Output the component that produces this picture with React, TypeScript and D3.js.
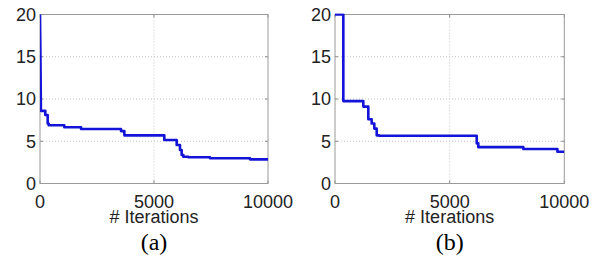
import React from "react";
import * as d3 from "d3";

type Pt = [number, number];

// Panel (a): best value vs iterations (step curve)
const iterA: number[] = [0, 20, 40, 232, 336, 380, 1066, 1800, 2237, 3553, 3700, 3846, 5452, 5540, 5995, 6140, 6213, 6287, 6506, 7456, 9210, 10000];
const valA: number[] = [20, 15, 8.6, 8.1, 7.1, 6.9, 6.65, 6.45, 6.45, 6.2, 5.7, 5.7, 5.15, 5.15, 4.55, 3.96, 3.37, 3.17, 3.1, 2.98, 2.86, 2.86];

// Panel (b)
const iterB: number[] = [0, 363, 1235, 1453, 1599, 1714, 1818, 1919, 6180, 6250, 8212, 9700, 10000];
const valB: number[] = [20, 9.75, 9.1, 7.6, 7.1, 6.5, 5.7, 5.65, 4.75, 4.3, 4.08, 3.76, 3.76];

const xTicks: number[] = [0, 5000, 10000];
const yTicks: number[] = [0, 5, 10, 15, 20];
const panelLabels: string[] = ["(a)", "(b)"];
const xLabel = "# Iterations";

function buildSteps(xs: number[], ys: number[]): Pt[] {
  // step-after curve: hold value until next iteration index
  const pts: Pt[] = [];
  for (let i = 0; i < xs.length; i++) {
    pts.push([xs[i], ys[i]]);
  }
  return pts;
}

const FONT = "Arial, 'Liberation Sans', sans-serif";

function Panel({ left, right, top, bottom, xs, ys, label, idx }: any) {
  const x = d3.scaleLinear().domain([0, 10000]).range([left, right]);
  const y = d3.scaleLinear().domain([0, 20]).range([bottom, top]);
  const pts = buildSteps(xs, ys);
  // first points are a quick drop (linear), rest are steps
  const line = d3
    .line<Pt>()
    .x((d) => x(d[0]))
    .y((d) => y(d[1]))
    .curve(d3.curveStepAfter);
  const stepPath = idx === 0
    ? d3.line<Pt>().x((d) => x(d[0])).y((d) => y(d[1]))(pts.slice(0, 3))! + line(pts.slice(2))!.replace(/^M/, "L")
    : line(pts)!;
  const clipId = `clip${idx}`;
  const cx = (left + right) / 2;
  return (
    <g>
      <defs>
        <clipPath id={clipId}>
          <rect x={left} y={top - 1} width={right - left} height={bottom - top + 1} />
        </clipPath>
      </defs>
      <rect x={left} y={top} width={right - left} height={bottom - top} fill="#fff" />
      {yTicks.filter((t) => t > 0 && t < 20).map((t) => (
        <line key={"gy" + t} x1={left} x2={right} y1={y(t)} y2={y(t)} stroke="#c4c4c4" strokeWidth={1} strokeDasharray="1,2" />
      ))}
      {xTicks.filter((t) => t > 0 && t < 10000).map((t) => (
        <line key={"gx" + t} x1={x(t)} x2={x(t)} y1={top} y2={bottom} stroke="#c4c4c4" strokeWidth={1} strokeDasharray="1,2" />
      ))}
      {yTicks.map((t) => (
        <g key={"ty" + t}>
          <line x1={left} x2={left + 3} y1={y(t)} y2={y(t)} stroke="#888" />
          <line x1={right} x2={right - 3} y1={y(t)} y2={y(t)} stroke="#888" />
        </g>
      ))}
      {xTicks.map((t) => (
        <g key={"tx" + t}>
          <line x1={x(t)} x2={x(t)} y1={bottom} y2={bottom - 3} stroke="#888" />
          <line x1={x(t)} x2={x(t)} y1={top} y2={top + 3} stroke="#888" />
        </g>
      ))}
      <rect x={left} y={top} width={right - left} height={bottom - top} fill="none" stroke="#999" strokeWidth={1} />
      <path d={stepPath} fill="none" stroke="#1414d8" strokeWidth={2.6} clipPath={`url(#${clipId})`} strokeLinejoin="round" />
      {yTicks.map((t) => (
        <text key={"ly" + t} x={left - 4} y={t === 0 ? y(t) : y(t)} dy="0.35em" textAnchor="end" fontFamily={FONT} fontSize={18} fill="#222">
          {t}
        </text>
      ))}
      {xTicks.map((t) => (
        <text key={"lx" + t} x={x(t)} y={bottom + 24.5} textAnchor="middle" fontFamily={FONT} fontSize={18} fill="#222">
          {t}
        </text>
      ))}
      <text x={cx} y={bottom + 39.5} textAnchor="middle" fontFamily={FONT} fontSize={18} fill="#222">
        {xLabel}
      </text>
      <text x={cx} y={250} textAnchor="middle" fontFamily="'Liberation Serif', 'Times New Roman', serif" fontSize={24} fill="#000">
        {label}
      </text>
    </g>
  );
}

export default function App() {
  return (
    <svg width={603} height={259} style={{ position: "absolute", left: 0, top: 0, background: "#fff" }}>
      <rect width={603} height={259} fill="#fff" />
      <Panel left={40} right={268} top={14.5} bottom={183.5} xs={iterA} ys={valA} label={panelLabels[0]} idx={0} />
      <Panel left={335} right={564.3} top={14.5} bottom={183.5} xs={iterB} ys={valB} label={panelLabels[1]} idx={1} />
    </svg>
  );
}
